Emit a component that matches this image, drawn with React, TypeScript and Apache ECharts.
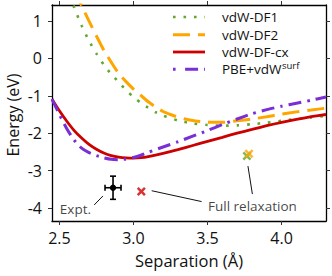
import React, { useEffect, useRef } from "react";
import * as echarts from "echarts";

// ---- data ----
const df1X = [2.55, 2.6, 2.65, 2.7, 2.75, 2.8, 2.85, 2.9, 2.95, 3.0, 3.05, 3.1, 3.15, 3.2, 3.3, 3.4, 3.5, 3.6, 3.7, 3.8, 3.9, 4.0, 4.1, 4.2, 4.3];
const df1E = [1.95, 1.36, 0.88, 0.47, 0.13, -0.17, -0.42, -0.63, -0.85, -1.03, -1.19, -1.32, -1.44, -1.53, -1.66, -1.74, -1.78, -1.8, -1.79, -1.76, -1.72, -1.67, -1.62, -1.58, -1.54];

const df2X = [2.6, 2.65, 2.7, 2.75, 2.8, 2.85, 2.9, 2.95, 3.0, 3.05, 3.1, 3.15, 3.2, 3.25, 3.3, 3.35, 3.4, 3.5, 3.6, 3.7, 3.8, 3.9, 4.0, 4.1, 4.2, 4.3];
const df2E = [1.83, 1.41, 1.0, 0.6, 0.22, -0.1, -0.4, -0.62, -0.82, -0.99, -1.16, -1.3, -1.42, -1.5, -1.57, -1.62, -1.66, -1.71, -1.71, -1.67, -1.62, -1.56, -1.49, -1.43, -1.38, -1.33];

const cxX = [2.45, 2.5, 2.55, 2.6, 2.65, 2.7, 2.75, 2.8, 2.85, 2.9, 2.95, 3.0, 3.05, 3.1, 3.2, 3.3, 3.4, 3.5, 3.6, 3.7, 3.8, 3.9, 4.0, 4.1, 4.2, 4.3];
const cxE = [-1.09, -1.4, -1.68, -1.93, -2.13, -2.3, -2.43, -2.53, -2.6, -2.64, -2.66, -2.665, -2.655, -2.625, -2.54, -2.44, -2.33, -2.22, -2.11, -2.0, -1.9, -1.8, -1.71, -1.63, -1.56, -1.5];

const pbeX = [2.45, 2.5, 2.55, 2.6, 2.65, 2.7, 2.75, 2.8, 2.85, 2.9, 2.95, 3.0, 3.05, 3.1, 3.2, 3.3, 3.4, 3.5, 3.6, 3.7, 3.8, 3.9, 4.0, 4.1, 4.2, 4.3];
const pbeE = [-1.09, -1.5, -1.88, -2.19, -2.4, -2.52, -2.6, -2.66, -2.7, -2.71, -2.69, -2.65, -2.59, -2.51, -2.37, -2.23, -2.08, -1.93, -1.77, -1.62, -1.48, -1.37, -1.28, -1.2, -1.12, -1.03];

// experiment: [separation, energy, xErr, yErr]
const expt = [2.862, -3.46, 0.054, 0.31];
// full relaxation points
const relaxCx = [3.053, -3.56];
const relaxDf1 = [3.766, -2.61];
const relaxDf2 = [3.78, -2.55];

// annotations
const exptLabelPos = [2.608, -4.03];
const relaxLabelPos = [3.803, -3.95];
const exptLeader = [[2.735, -3.92], [2.794, -3.68]];
const relaxLeaderCx = [[3.123, -3.54], [3.46, -3.83]];
const relaxLeaderDf = [[3.773, -2.88], [3.803, -3.63]];

const xTicks = [2.5, 3.0, 3.5, 4.0];
const yTicks = [-4, -3, -2, -1, 0, 1];
const legendNames = ["vdW-DF1", "vdW-DF2", "vdW-DF-cx", "PBE+vdW"];
const xTitle = "Separation (Å)";
const yTitle = "Energy (eV)";

const zip = (xs: number[], ys: number[]) => xs.map((x, i) => [x, ys[i]]);

const FONT = "Open Sans";
const GREEN = "#64a82a";
const ORANGE = "#ffa500";
const RED = "#cc0000";
const PURPLE = "#7a2ed6";
const CROSS = "path://M2,0 L5,3 L8,0 L10,2 L7,5 L10,8 L8,10 L5,7 L2,10 L0,8 L3,5 L0,2 Z";

export default function App() {
  const ref = useRef<HTMLDivElement>(null);
  useEffect(() => {
    if (!ref.current) return;
    const chart = echarts.init(ref.current, null, { renderer: "svg" });
    const axisLine = { show: true, onZero: false, lineStyle: { color: "#000", width: 1.3 } };
    const tick = { show: true, inside: false, length: 4, lineStyle: { color: "#333", width: 1 } };
    const xBase = { type: "value", min: 2.45, max: 4.3, splitLine: { show: false } };
    const yBase = { type: "value", min: -4.35, max: 1.43, splitLine: { show: false } };
    const leader = (pts: number[][]) => ({
      type: "line",
      data: pts,
      symbol: "none",
      silent: true,
      lineStyle: { color: "#111", width: 1 },
      z: 1,
    });
    const label = (pos: number[], text: string) => ({
      type: "scatter",
      data: [pos],
      symbolSize: 2,
      itemStyle: { color: "rgba(0,0,0,0)" },
      silent: true,
      z: 9,
      label: {
        show: true,
        position: "inside",
        formatter: text,
        fontFamily: FONT,
        fontSize: 13.5,
        color: "#111",
      },
    });
    const legendY = [17, 34.7, 52, 69.3];
    const legendStyles = [
      { stroke: GREEN, lineWidth: 2.6, lineDash: [2.6, 7.9] },
      { stroke: ORANGE, lineWidth: 3, lineDash: [17, 8] },
      { stroke: RED, lineWidth: 2.8 },
      { stroke: PURPLE, lineWidth: 3, lineDash: [2.6, 9.5, 13, 6] },
    ];
    const graphic: any[] = [
      {
        type: "text",
        x: 13,
        y: 115,
        rotation: Math.PI / 2,
        style: {
          text: yTitle,
          fontFamily: FONT,
          fontSize: 16,
          fill: "#111",
          align: "center",
          verticalAlign: "middle",
        },
      },
    ];
    legendY.forEach((y, i) => {
      graphic.push({
        type: "line",
        shape: { x1: 173, y1: y, x2: 205, y2: y },
        style: { ...legendStyles[i], lineCap: "butt" },
      });
      graphic.push({
        type: "text",
        x: 222,
        y,
        style: {
          text: i === 3 ? `{m|${legendNames[i]}}{s|surf}` : legendNames[i],
          fontFamily: FONT,
          fontSize: 13.5,
          fill: "#111",
          verticalAlign: "middle",
          rich: {
            m: { fontFamily: FONT, fontSize: 13.5, fill: "#111", lineHeight: 18 },
            s: { fontFamily: FONT, fontSize: 9.5, fill: "#111", lineHeight: 18, verticalAlign: "top", padding: [0, 0, 0, 0.5] },
          },
        },
      });
    });

    chart.setOption({
      animation: false,
      grid: { left: 52, right: 6, top: 5, bottom: 55, containLabel: false, outerBoundsMode: "none" },
      xAxis: [
        {
          ...xBase,
          position: "bottom",
          axisLine,
          axisTick: { ...tick, customValues: xTicks },
          axisLabel: {
            customValues: xTicks,
            formatter: (v: number) => v.toFixed(1),
            fontFamily: FONT,
            fontSize: 16,
            color: "#111",
            margin: 9,
          },
          name: xTitle,
          nameLocation: "middle",
          nameGap: 31,
          nameTextStyle: { fontFamily: FONT, fontSize: 16.5, color: "#111" },
        },
        {
          ...xBase,
          position: "top",
          axisLine,
          axisTick: { ...tick, customValues: xTicks },
          axisLabel: { show: false },
        },
      ],
      yAxis: [
        {
          ...yBase,
          position: "left",
          axisLine,
          axisTick: { ...tick, customValues: yTicks },
          axisLabel: {
            customValues: yTicks,
            fontFamily: FONT,
            fontSize: 16,
            color: "#111",
            margin: 10,
          },
        },
        {
          ...yBase,
          position: "right",
          axisLine,
          axisTick: { ...tick, customValues: yTicks },
          axisLabel: { show: false },
        },
      ],
      series: [
        {
          name: "vdW-DF1",
          type: "line",
          data: zip(df1X, df1E),
          symbol: "none",
          smooth: 0.2,
          clip: true,
          lineStyle: { color: GREEN, width: 2.6, type: [2.6, 7.9], cap: "butt" },
          z: 2,
        },
        {
          name: "vdW-DF2",
          type: "line",
          data: zip(df2X, df2E),
          symbol: "none",
          smooth: 0.2,
          clip: true,
          lineStyle: { color: ORANGE, width: 3, type: [17, 8], cap: "butt" },
          z: 3,
        },
        {
          name: "vdW-DF-cx",
          type: "line",
          data: zip(cxX, cxE),
          symbol: "none",
          smooth: 0.2,
          clip: true,
          lineStyle: { color: RED, width: 2.8 },
          z: 4,
        },
        {
          name: "PBE+vdWsurf",
          type: "line",
          data: zip(pbeX, pbeE),
          symbol: "none",
          smooth: 0.2,
          clip: true,
          lineStyle: { color: PURPLE, width: 3, type: [13, 6, 2.6, 6], cap: "butt" },
          z: 5,
        },
        leader(exptLeader),
        leader(relaxLeaderCx),
        leader(relaxLeaderDf),
        label(exptLabelPos, "Expt."),
        label(relaxLabelPos, "Full relaxation"),
        {
          type: "scatter",
          data: [relaxCx],
          symbol: CROSS,
          symbolSize: 9,
          itemStyle: { color: RED },
          z: 6,
        },
        {
          type: "scatter",
          data: [relaxDf1],
          symbol: CROSS,
          symbolSize: 9,
          itemStyle: { color: GREEN },
          z: 6,
        },
        {
          type: "scatter",
          data: [relaxDf2],
          symbol: CROSS,
          symbolSize: 9,
          itemStyle: { color: ORANGE },
          z: 7,
        },
        {
          type: "custom",
          data: [expt],
          encode: { x: 0, y: 1 },
          z: 8,
          renderItem: (params: any, api: any) => {
            const x = api.value(0);
            const y = api.value(1);
            const xe = api.value(2);
            const ye = api.value(3);
            const c = api.coord([x, y]);
            const l = api.coord([x - xe, y]);
            const r = api.coord([x + xe, y]);
            const t = api.coord([x, y + ye]);
            const b = api.coord([x, y - ye]);
            const cap = 3;
            const st = { stroke: "#000", lineWidth: 1.6 };
            return {
              type: "group",
              children: [
                { type: "line", shape: { x1: l[0], y1: l[1], x2: r[0], y2: r[1] }, style: st },
                { type: "line", shape: { x1: t[0], y1: t[1], x2: b[0], y2: b[1] }, style: st },
                { type: "line", shape: { x1: l[0], y1: l[1] - cap, x2: l[0], y2: l[1] + cap }, style: st },
                { type: "line", shape: { x1: r[0], y1: r[1] - cap, x2: r[0], y2: r[1] + cap }, style: st },
                { type: "line", shape: { x1: t[0] - cap, y1: t[1], x2: t[0] + cap, y2: t[1] }, style: st },
                { type: "line", shape: { x1: b[0] - cap, y1: b[1], x2: b[0] + cap, y2: b[1] }, style: st },
                { type: "circle", shape: { cx: c[0], cy: c[1], r: 3.2 }, style: { fill: "#000" } },
              ],
            };
          },
        },
      ],
      graphic,
    } as any);
    return () => chart.dispose();
  }, []);
  return (
    <div
      ref={ref}
      style={{ position: "fixed", left: 0, top: 0, width: 332, height: 276, background: "#fff" }}
    />
  );
}
